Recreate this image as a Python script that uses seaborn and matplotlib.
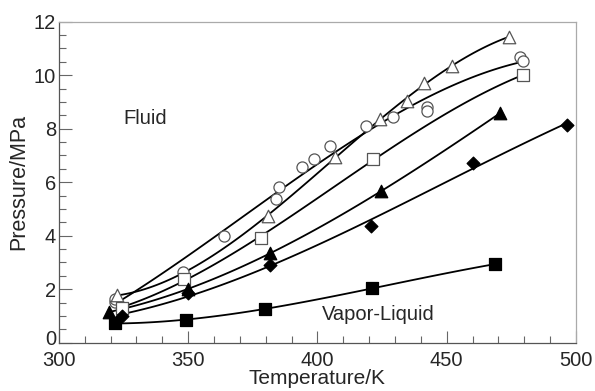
import numpy as np
import pandas as pd
import matplotlib
matplotlib.use("Agg")
import matplotlib.pyplot as plt
import matplotlib.transforms as mtransforms
import seaborn as sns

# ---- data ----
circ_T = [321.7, 321.7, 348.0, 363.8, 383.9, 385.2, 393.9, 398.8, 404.8, 418.8, 429.3, 442.2, 442.2, 478.3, 479.4]
circ_P = [1.52, 1.64, 2.63, 3.99, 5.36, 5.83, 6.56, 6.86, 7.35, 8.11, 8.43, 8.82, 8.67, 10.67, 10.54]

otri_T = [322.6, 380.7, 406.8, 424.2, 434.7, 441.2, 451.9, 474.2]
otri_P = [1.77, 4.74, 6.95, 8.35, 9.05, 9.72, 10.34, 11.44]

osq_T = [324.4, 348.5, 378.0, 421.6, 479.6]
osq_P = [1.31, 2.38, 3.92, 6.85, 10.01]

ftri_T = [319.5, 349.9, 381.6, 424.7, 470.6]
ftri_P = [1.15, 2.01, 3.34, 5.67, 8.58]

fdia_T = [324.4, 349.9, 381.5, 420.6, 460.3, 496.4]
fdia_P = [1.00, 1.85, 2.90, 4.36, 6.73, 8.14]

fsq_T = [321.7, 349.1, 379.7, 421.3, 468.7]
fsq_P = [0.72, 0.86, 1.27, 2.03, 2.94]

x_ticks = [300, 350, 400, 450, 500]
y_ticks = [0, 2, 4, 6, 8, 10, 12]

sns.set_style("ticks")
plt.rcParams['font.family'] = ['Liberation Sans', 'DejaVu Sans']

fig = plt.figure(figsize=(5.95, 3.91), dpi=100)
ax = fig.add_axes([0.099, 0.1235, 0.869, 0.821])

series = [
    (circ_T, circ_P, 'o', 'white', '#555555', 8),
    (otri_T, otri_P, '^', 'white', '#555555', 9),
    (osq_T, osq_P, 's', 'white', '#555555', 8.5),
    (ftri_T, ftri_P, '^', 'black', 'black', 9),
    (fdia_T, fdia_P, 'D', 'black', 'black', 6.5),
    (fsq_T, fsq_P, 's', 'black', 'black', 8.5),
]

for T, P, m, fc, ec, ms in series:
    df = pd.DataFrame({'T': T, 'P': P})
    sns.regplot(data=df, x='T', y='P', order=3, ci=None, scatter=False,
                truncate=True, ax=ax,
                line_kws=dict(color='black', lw=1.3, zorder=2))
for T, P, m, fc, ec, ms in series:
    df = pd.DataFrame({'T': T, 'P': P})
    sns.scatterplot(data=df, x='T', y='P', marker=m, s=ms**2,
                    facecolor=fc, edgecolor=ec, linewidth=0.9, ax=ax, zorder=3)

ax.set_xlim(300, 500)
ax.set_ylim(0, 12)
ax.set_xticks(x_ticks)
ax.set_yticks(y_ticks)
ax.set_xticks(np.arange(300, 501, 10), minor=True)
ax.set_yticks(np.arange(0, 12.01, 0.5), minor=True)
ax.tick_params(axis='both', which='major', direction='in', length=9, width=0.8,
               color='#666666', labelsize=14.5, pad=2)
ax.tick_params(axis='both', which='minor', direction='in', length=5, width=0.8,
               color='#666666')
ax.tick_params(axis='x', which='major', pad=6)
ax.set_xlabel('Temperature/K', fontsize=15, labelpad=-1)
ax.set_ylabel('Pressure/MPa', fontsize=15.5, labelpad=3)

# lift the "0" label slightly so it does not collide with "300"
offset = mtransforms.ScaledTranslation(0, 4 / 72, fig.dpi_scale_trans)
ylabels = ax.get_yticklabels()
ylabels[0].set_transform(ylabels[0].get_transform() + offset)

for s in ['left', 'bottom']:
    ax.spines[s].set_color('#555555')
    ax.spines[s].set_linewidth(0.9)
for s in ['top', 'right']:
    ax.spines[s].set_color('#aaaaaa')
    ax.spines[s].set_linewidth(0.9)

ax.text(325.1, 8.39, 'Fluid', fontsize=14.5, va='center', ha='left')
ax.text(401.6, 1.07, 'Vapor-Liquid', fontsize=14.5, va='center', ha='left')

fig.savefig('out.png', dpi=100)
